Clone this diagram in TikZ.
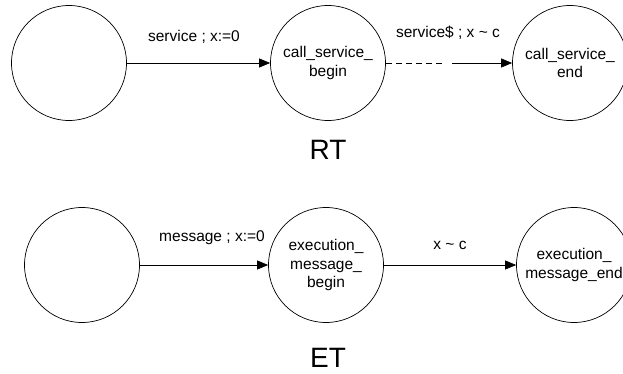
\documentclass[tikz,border=0pt]{standalone}
\usepackage{fontspec}
\setmainfont{Liberation Sans}
\usetikzlibrary{arrows.meta}
\begin{document}
\begin{tikzpicture}[x=1pt,y=-1pt,
  state/.style={draw,circle,line width=0.7pt,minimum size=115pt,inner sep=0pt,align=center,
    font=\fontsize{15.5}{18.5}\selectfont},
  lbl/.style={font=\fontsize{15.5}{18.5}\selectfont,inner sep=0pt},
  big/.style={font=\fontsize{28}{32}\selectfont,inner sep=0pt},
  tr/.style={line width=0.7pt,-{Triangle[length=11pt,width=9pt]}}]
\useasboundingbox (0,0) rectangle (623,374);
% RT
\node[state] (r1) at (69,63) {};
\node[state] (r2) at (328,63) {call\_service\_\\begin};
\node[state] (r3) at (570,63) {call\_service\_\\end};
\coordinate (d1) at (445,63);
\coordinate (d2) at (452,63);
\draw[tr] (r1) -- (r2);
\draw[line width=0.7pt,dash pattern=on 6pt off 4pt] (r2) -- (d1);
\draw[tr] (d2) -- (r3.west);
\node[lbl] (l1) at (194,37) {service ; x:=0};
\node[lbl] (l2) at (448,33) {service\$ ; x \textasciitilde{} c};
\node[big] (rt) at (328,150) {RT};
% ET
\node[state] (e1) at (82,265) {};
\node[state] (e2) at (326,265) {execution\_\\message\_\\begin};
\node[state] (e3) at (574,265) {execution\_\\message\_end};
\draw[tr] (e1) -- (e2);
\draw[tr] (e2) -- (e3);
\node[lbl] (l3) at (212,238) {message ; x:=0};
\node[lbl] (l4) at (450,245) {x \textasciitilde{} c};
\node[big] (et) at (328,358) {ET};
\end{tikzpicture}
\end{document}
